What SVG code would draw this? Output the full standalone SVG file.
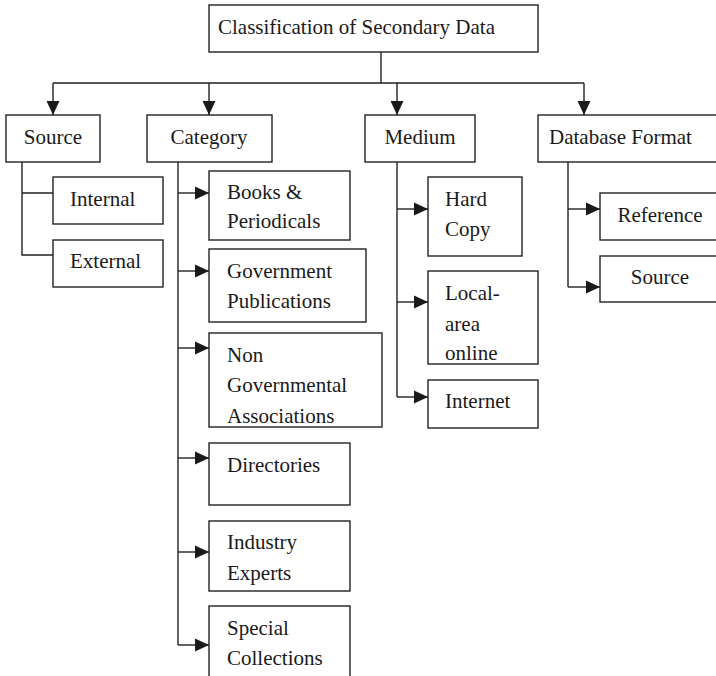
<svg xmlns="http://www.w3.org/2000/svg" width="716" height="676" viewBox="0 0 716 676">
<style>
.b{fill:#fff;stroke:#222;stroke-width:1.4}
.t{font-family:"Liberation Serif","Times New Roman",serif;font-size:21px;fill:#1a1a1a}
.c{fill:none;stroke:#222;stroke-width:1.4}
.m{text-anchor:middle}
</style>
<defs>
<marker id="a" markerUnits="userSpaceOnUse" markerWidth="14" markerHeight="14" viewBox="0 0 13 12" refX="13" refY="6" orient="auto">
<path d="M0,0 L13,6 L0,12 Z" fill="#1a1a1a"/>
</marker>
</defs>
<rect width="716" height="676" fill="#fff"/>
<g id="connectors">
<path class="c" d="M381,52 V83 M53,83 H584"/>
<path class="c" d="M53,83 V115" marker-end="url(#a)"/>
<path class="c" d="M209,83 V115" marker-end="url(#a)"/>
<path class="c" d="M397,83 V115" marker-end="url(#a)"/>
<path class="c" d="M584,83 V115" marker-end="url(#a)"/>
<path class="c" d="M22,162 V255 H53 M22,193 H53"/>
<path class="c" d="M178,162 V645"/>
<path class="c" d="M178,193 H209" marker-end="url(#a)"/>
<path class="c" d="M178,271 H209" marker-end="url(#a)"/>
<path class="c" d="M178,348 H209" marker-end="url(#a)"/>
<path class="c" d="M178,458 H209" marker-end="url(#a)"/>
<path class="c" d="M178,552 H209" marker-end="url(#a)"/>
<path class="c" d="M178,645 H209" marker-end="url(#a)"/>
<path class="c" d="M397,162 V397"/>
<path class="c" d="M397,209 H428" marker-end="url(#a)"/>
<path class="c" d="M397,302 H428" marker-end="url(#a)"/>
<path class="c" d="M397,397 H428" marker-end="url(#a)"/>
<path class="c" d="M568,162 V287"/>
<path class="c" d="M568,209 H600" marker-end="url(#a)"/>
<path class="c" d="M568,287 H600" marker-end="url(#a)"/>
</g>
<g id="root"><rect class="b" x="209" y="5" width="329" height="47"/><text class="t" x="218" y="34">Classification of Secondary Data</text></g>
<g id="source"><rect class="b" x="6" y="115" width="94" height="47"/><text class="t m" x="53" y="144">Source</text></g>
<g id="category"><rect class="b" x="147" y="115" width="125" height="47"/><text class="t m" x="209" y="144">Category</text></g>
<g id="medium"><rect class="b" x="365" y="115" width="110" height="47"/><text class="t m" x="420" y="144">Medium</text></g>
<g id="dbformat"><rect class="b" x="538" y="115" width="180" height="47"/><text class="t" x="549" y="144">Database Format</text></g>
<g id="internal"><rect class="b" x="53" y="177" width="110" height="47"/><text class="t" x="70" y="206">Internal</text></g>
<g id="external"><rect class="b" x="53" y="240" width="110" height="47"/><text class="t" x="70" y="268">External</text></g>
<g id="books"><rect class="b" x="209" y="171" width="141" height="69"/><text class="t" x="227" y="199">Books &amp;</text><text class="t" x="227" y="228">Periodicals</text></g>
<g id="government"><rect class="b" x="209" y="249" width="157" height="73"/><text class="t" x="227" y="278">Government</text><text class="t" x="227" y="308">Publications</text></g>
<g id="nongov"><rect class="b" x="209" y="333" width="173" height="94"/><text class="t" x="227" y="362">Non</text><text class="t" x="227" y="392">Governmental</text><text class="t" x="227" y="423">Associations</text></g>
<g id="directories"><rect class="b" x="209" y="443" width="141" height="62"/><text class="t" x="227" y="472">Directories</text></g>
<g id="industry"><rect class="b" x="209" y="521" width="141" height="70"/><text class="t" x="227" y="549">Industry</text><text class="t" x="227" y="580">Experts</text></g>
<g id="special"><rect class="b" x="209" y="606" width="141" height="80"/><text class="t" x="227" y="635">Special</text><text class="t" x="227" y="665">Collections</text></g>
<g id="hardcopy"><rect class="b" x="428" y="177" width="94" height="79"/><text class="t" x="445" y="206">Hard</text><text class="t" x="445" y="236">Copy</text></g>
<g id="localarea"><rect class="b" x="428" y="271" width="110" height="93"/><text class="t" x="445" y="300">Local-</text><text class="t" x="445" y="331">area</text><text class="t" x="445" y="360">online</text></g>
<g id="internet"><rect class="b" x="428" y="380" width="110" height="48"/><text class="t" x="445" y="408">Internet</text></g>
<g id="reference"><rect class="b" x="600" y="193" width="118" height="47"/><text class="t m" x="660" y="222">Reference</text></g>
<g id="dbsource"><rect class="b" x="600" y="256" width="118" height="46"/><text class="t m" x="660" y="284">Source</text></g>
</svg>
